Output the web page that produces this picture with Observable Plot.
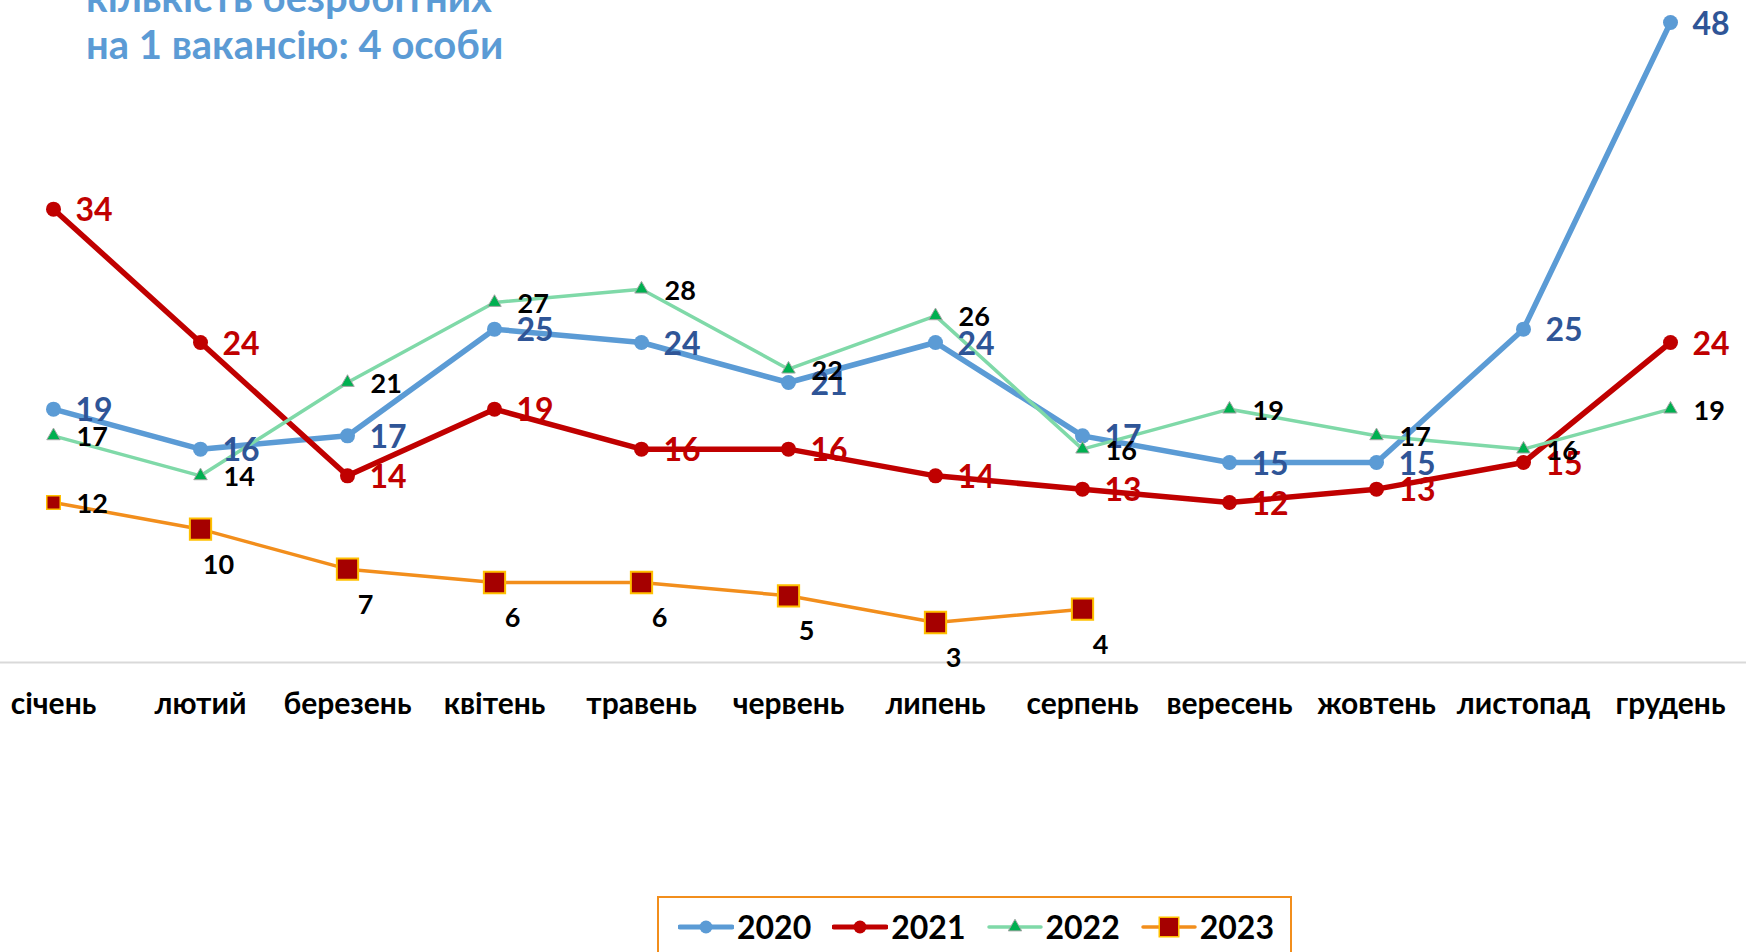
<!DOCTYPE html>
<html>
<head>
<meta charset="utf-8">
<script src="https://cdn.jsdelivr.net/npm/d3@7"></script>
<script src="https://cdn.jsdelivr.net/npm/@observablehq/plot@0.6"></script>
<style>
  body { margin: 0; background: #fff; font-family: Lato, sans-serif; }
  #wrap { position: relative; width: 1746px; height: 952px; overflow: hidden; background: #fff; }
  #chart { position: absolute; left: 0; top: 0; }
  #title { position: absolute; left: 86px; top: -26px; color: #5B9BD5; font: bold 40px/47px Lato, sans-serif; white-space: nowrap; }
  #legend { position: absolute; left: 657px; top: 896px; width: 635px; height: 90px; box-sizing: border-box;
            border: 2px solid #F28E1C; padding: 11px 0 0 19px; }
  #legend .row { display: flex; align-items: center; height: 36px; }
  #legend .item { display: flex; align-items: center; margin-right: 21px; }
  #legend .lbl { font: bold 32px Lato, sans-serif; color: #000; margin-left: 3px; line-height: 36px; }
</style>
</head>
<body>
<div id="wrap">
  <div id="chart"></div>
  <div id="title">кількість безробітних<br>на 1 вакансію: 4 особи</div>
  <div id="legend"><div class="row" id="legrow"></div></div>
</div>
<script>
const months = ["січень","лютий","березень","квітень","травень","червень","липень","серпень","вересень","жовтень","листопад","грудень"];
const years = ["2020","2021","2022","2023"];
const v2020 = [19,16,17,25,24,21,24,17,15,15,25,48];
const v2021 = [34,24,14,19,16,16,14,13,12,13,15,24];
const v2022 = [17,14,21,27,28,22,26,16,19,17,16,19];
const v2023 = [12,10,7,6,6,5,3,4];

const rows = (vals, year) => vals.map((v, i) => ({month: months[i], value: v, year, i}));
const d20 = rows(v2020, years[0]);
const d21 = rows(v2021, years[1]);
const d22 = rows(v2022, years[2]);
const d23 = rows(v2023, years[3]);

const C = {
  l20: "#5B9BD5", t20: "#2F5597",
  l21: "#C00000", t21: "#C00000",
  l22: "#7FD9A8", m22: "#00B050",
  l23: "#F28E1C", m23: "#A50000", s23: "#FFC000"
};

const plot = Plot.plot({
  width: 1746, height: 760,
  marginLeft: 53, marginRight: 76, marginTop: 22, marginBottom: 98,
  style: {fontFamily: "Lato, sans-serif", fontSize: "30px", fontWeight: "bold", color: "black", background: "transparent", overflow: "visible"},
  x: {type: "point", domain: months, padding: 0, tickSize: 0, tickPadding: 30, label: null},
  y: {domain: [0, 48], axis: null},
  marks: [
    Plot.ruleY([0], {stroke: "#D9D9D9", strokeWidth: 2, insetLeft: -53, insetRight: -76}),
    Plot.line(d20, {x: "month", y: "value", stroke: C.l20, strokeWidth: 5.5, strokeLinejoin: "round", strokeLinecap: "round"}),
    Plot.dot(d20, {x: "month", y: "value", r: 7.5, fill: C.l20}),
    Plot.line(d21, {x: "month", y: "value", stroke: C.l21, strokeWidth: 5.5, strokeLinejoin: "round", strokeLinecap: "round"}),
    Plot.dot(d21, {x: "month", y: "value", r: 7.5, fill: C.l21}),
    Plot.line(d22, {x: "month", y: "value", stroke: C.l22, strokeWidth: 3.5, strokeLinejoin: "round"}),
    Plot.dot(d22, {x: "month", y: "value", r: 5, symbol: "triangle", fill: C.m22, stroke: "#A5A5A5", strokeWidth: 1}),
    Plot.line(d23, {x: "month", y: "value", stroke: C.l23, strokeWidth: 3.5, strokeLinejoin: "round"}),
    Plot.dot(d23.filter(d => d.i === 0), {x: "month", y: "value", r: 7.6, symbol: "square", fill: C.m23, stroke: C.s23, strokeWidth: 1.5}),
    Plot.dot(d23.filter(d => d.i > 0), {x: "month", y: "value", r: 12, symbol: "square", fill: C.m23, stroke: C.s23, strokeWidth: 2}),
    Plot.text(d20, {x: "month", y: "value", text: "value", dx: 22, dy: 2, textAnchor: "start", fill: C.t20, fontSize: 32, fontWeight: "bold"}),
    Plot.text(d21, {x: "month", y: "value", text: "value", dx: 22, dy: 2, textAnchor: "start", fill: C.t21, fontSize: 32, fontWeight: "bold"}),
    Plot.text(d22, {x: "month", y: "value", text: "value", dx: 23, dy: 2, textAnchor: "start", fill: "#000", fontSize: 27, fontWeight: "bold"}),
    Plot.text(d23.filter(d => d.i === 0), {x: "month", y: "value", text: "value", dx: 23, dy: 2, textAnchor: "start", fill: "#000", fontSize: 27, fontWeight: "bold"}),
    Plot.text(d23.filter(d => d.i > 0), {x: "month", y: "value", text: "value", dx: 18, dy: 36, textAnchor: "middle", fill: "#000", fontSize: 27, fontWeight: "bold"})
  ]
});
document.getElementById("chart").appendChild(plot);

// legend
const legendSpec = [
  {year: years[0], line: C.l20, lw: 5, sym: "circle", fill: C.l20, stroke: "none", size: 6.5},
  {year: years[1], line: C.l21, lw: 5, sym: "circle", fill: C.l21, stroke: "none", size: 6.5},
  {year: years[2], line: C.l22, lw: 3.5, sym: "triangle", fill: C.m22, stroke: "#A5A5A5", size: 5},
  {year: years[3], line: C.l23, lw: 3.5, sym: "square", fill: C.m23, stroke: C.s23, size: 11}
];
const row = d3.select("#legrow");
for (const s of legendSpec) {
  const item = row.append("div").attr("class", "item");
  const svg = item.append("svg").attr("width", 56).attr("height", 30);
  svg.append("line").attr("x1", 2).attr("x2", 54).attr("y1", 15).attr("y2", 15)
    .attr("stroke", s.line).attr("stroke-width", s.lw).attr("stroke-linecap", "round");
  const symType = s.sym === "circle" ? d3.symbolCircle : s.sym === "triangle" ? d3.symbolTriangle : d3.symbolSquare;
  svg.append("path").attr("transform", "translate(28,15)")
    .attr("d", d3.symbol(symType, Math.PI * s.size * s.size)())
    .attr("fill", s.fill).attr("stroke", s.stroke).attr("stroke-width", s.sym === "square" ? 1.5 : 1);
  item.append("span").attr("class", "lbl").text(s.year);
}
</script>
</body>
</html>
